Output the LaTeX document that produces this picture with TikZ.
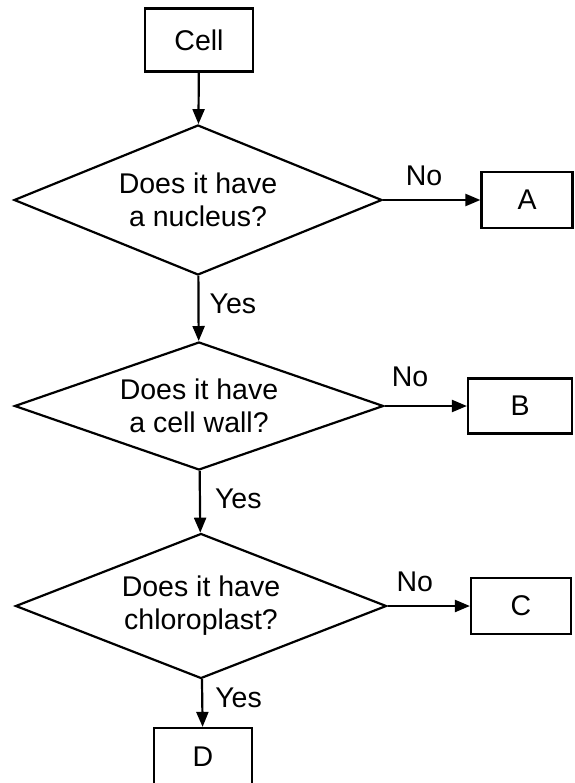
\documentclass[tikz,border=0pt]{standalone}
\usepackage{fontspec}
\setmainfont{Liberation Sans}
\usetikzlibrary{shapes.geometric,arrows.meta}

\begin{document}
\begin{tikzpicture}[x=1pt, y=-1pt, >={Triangle[length=15pt,width=12pt]},
        line width=2.2pt,
        every node/.style={font=\fontsize{28.5}{33}\selectfont},
        box/.style={draw, rectangle, inner sep=0pt},
        query/.style={draw, diamond, aspect=2.6, inner sep=0pt, align=center},
        answer/.style={inner sep=2pt}]
        % --- 1. Frame ---
        \useasboundingbox (0,0) rectangle (574,783);

        % --- 2. Start and questions ---
        \node[box, minimum width=108pt, minimum height=63pt] (cell) at (199,40) {Cell};
        \node[query, minimum width=368pt, minimum height=150pt] (nucleus) at (198,200) {Does it have\\a nucleus?};
        \node[query, minimum width=369pt, minimum height=128pt] (wall) at (199,406) {Does it have\\a cell wall?};
        \node[query, minimum width=371pt, minimum height=145pt] (chloro) at (201,606) {Does it have\\chloroplast?};

        % --- 3. Outcomes ---
        \node[box, minimum width=91pt, minimum height=56pt] (A) at (527,200) {A};
        \node[box, minimum width=104pt, minimum height=55pt] (B) at (520,406) {B};
        \node[box, minimum width=100pt, minimum height=56pt] (C) at (521,606) {C};
        \node[box, minimum width=98pt, minimum height=58pt] (D) at (203,757) {D};

        % --- 4. Connectors ---
        \draw[->] (cell) -- (nucleus);
        \draw[->] (nucleus) -- (A) node[answer, pos=0.42, above=11pt] {No};
        \draw[->] (nucleus) -- (wall) node[answer, pos=0.43, right=8pt] {Yes};
        \draw[->] (wall) -- (B) node[answer, pos=0.31, above=16pt] {No};
        \draw[->] (wall) -- (chloro) node[answer, pos=0.45, right=12pt] {Yes};
        \draw[->] (chloro) -- (C) node[answer, pos=0.33, above=11pt] {No};
        \draw[->] (chloro) -- (D) node[answer, pos=0.38, right=10pt] {Yes};
\end{tikzpicture}
\end{document}
